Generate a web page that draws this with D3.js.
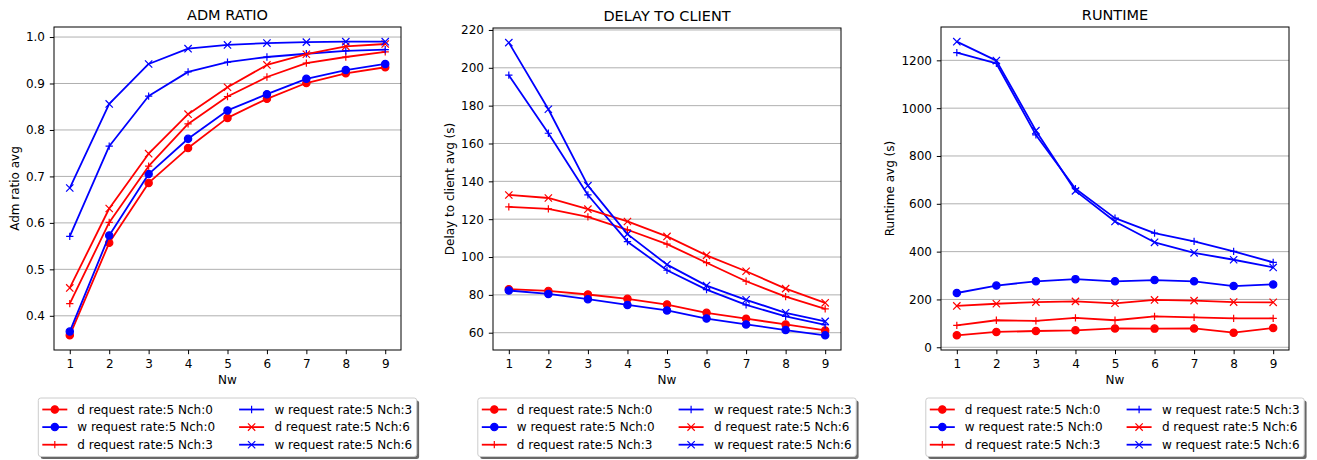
<!DOCTYPE html>
<html><head><meta charset="utf-8">
<script src="https://cdn.jsdelivr.net/npm/d3@7"></script>
<style>
body{margin:0;background:#fff}
svg{display:block;font-family:"DejaVu Sans",sans-serif}
</style>
</head><body>
<svg id="c" width="1317" height="460"></svg>
<script>
// ---------- data ----------
const nw = [1, 2, 3, 4, 5, 6, 7, 8, 9];
const seriesNames = [
  "d request rate:5 Nch:0", "w request rate:5 Nch:0",
  "d request rate:5 Nch:3", "w request rate:5 Nch:3",
  "d request rate:5 Nch:6", "w request rate:5 Nch:6"
];
const seriesColors = ["#ff0000", "#0000ff", "#ff0000", "#0000ff", "#ff0000", "#0000ff"];
const seriesMarkers = ["o", "o", "+", "+", "x", "x"];

// ADM RATIO
const admD0 = [0.358, 0.557, 0.686, 0.761, 0.826, 0.867, 0.901, 0.922, 0.935];
const admW0 = [0.366, 0.573, 0.705, 0.781, 0.842, 0.877, 0.910, 0.929, 0.942];
const admD3 = [0.426, 0.601, 0.722, 0.813, 0.872, 0.914, 0.944, 0.957, 0.968];
const admW3 = [0.571, 0.765, 0.873, 0.925, 0.946, 0.957, 0.964, 0.970, 0.973];
const admD6 = [0.460, 0.631, 0.749, 0.834, 0.892, 0.940, 0.963, 0.980, 0.985];
const admW6 = [0.675, 0.856, 0.942, 0.975, 0.983, 0.987, 0.989, 0.990, 0.990];

// DELAY TO CLIENT
const delayD0 = [83.0, 82.1, 80.2, 77.9, 74.9, 70.5, 67.4, 64.4, 61.2];
const delayW0 = [82.3, 80.5, 77.7, 74.7, 71.8, 67.5, 64.4, 61.4, 58.6];
const delayD3 = [126.5, 125.4, 121.2, 114.4, 106.8, 97.0, 87.2, 79.1, 72.6];
const delayW3 = [196.1, 165.4, 132.8, 108.1, 93.0, 82.8, 74.7, 68.6, 64.2];
const delayD6 = [132.8, 131.2, 125.3, 118.8, 110.9, 100.9, 92.5, 83.3, 75.8];
const delayW6 = [213.3, 178.1, 137.7, 112.1, 96.0, 84.9, 77.4, 70.5, 66.0];

// RUNTIME
const runD0 = [50, 64, 68, 71, 79, 78, 79, 61, 81];
const runW0 = [227, 258, 276, 285, 276, 281, 276, 256, 263];
const runD3 = [92, 113, 110, 123, 113, 129, 125, 121, 121];
const runW3 = [1232, 1187, 888, 663, 540, 477, 443, 401, 355];
const runD6 = [173, 182, 189, 192, 184, 198, 195, 189, 188];
const runW6 = [1278, 1199, 906, 654, 526, 439, 395, 366, 334];

// tick labels
const xTicks = [1, 2, 3, 4, 5, 6, 7, 8, 9];
const admTicks = [0.4, 0.5, 0.6, 0.7, 0.8, 0.9, 1.0];
const delayTicks = [60, 80, 100, 120, 140, 160, 180, 200, 220];
const runTicks = [0, 200, 400, 600, 800, 1000, 1200];

const titles = ["ADM RATIO", "DELAY TO CLIENT", "RUNTIME"];
const yLabels = ["Adm ratio avg", "Delay to client avg (s)", "Runtime avg (s)"];
const xLabel = "Nw";

// ---------- layout ----------
const panels = [
  {series: [admD0, admW0, admD3, admW3, admD6, admW6], ticks: admTicks, fmt: d3.format(".1f"),
   box: {l: 54, r: 401, t: 27, b: 350}},
  {series: [delayD0, delayW0, delayD3, delayW3, delayD6, delayW6], ticks: delayTicks, fmt: d3.format("d"),
   box: {l: 493, r: 841, t: 28, b: 350}},
  {series: [runD0, runW0, runD3, runW3, runD6, runW6], ticks: runTicks, fmt: d3.format("d"),
   box: {l: 941, r: 1289, t: 27, b: 350}}
];

const svg = d3.select("#c");
const LW = 1.8, MS = 3.65, MEW = 1.2;

function drawMarker(g, type, x, y, color) {
  if (type === "o") {
    g.append("circle").attr("cx", x).attr("cy", y).attr("r", MS)
      .attr("fill", color).attr("stroke", color).attr("stroke-width", MEW);
  } else if (type === "+") {
    g.append("path").attr("d", `M${x - MS},${y}H${x + MS}M${x},${y - MS}V${y + MS}`)
      .attr("stroke", color).attr("stroke-width", MEW).attr("fill", "none");
  } else {
    g.append("path").attr("d", `M${x - MS},${y - MS}L${x + MS},${y + MS}M${x - MS},${y + MS}L${x + MS},${y - MS}`)
      .attr("stroke", color).attr("stroke-width", MEW).attr("fill", "none");
  }
}

panels.forEach((p, pi) => {
  const {l, r, t, b} = p.box;
  const g = svg.append("g");
  const x = d3.scaleLinear().domain([0.6, 9.4]).range([l, r]);
  const all = p.series.flat();
  const mn = d3.min(all), mx = d3.max(all), m = (mx - mn) * 0.05;
  const y = d3.scaleLinear().domain([mn - m, mx + m]).range([b, t]);

  // grid
  g.append("g").selectAll("line").data(p.ticks).join("line")
    .attr("x1", l).attr("x2", r).attr("y1", d => y(d)).attr("y2", d => y(d))
    .attr("stroke", "#b0b0b0").attr("stroke-width", 1);

  // series
  const line = d3.line().x((d, i) => x(nw[i])).y(d => y(d));
  p.series.forEach((s, si) => {
    const sg = g.append("g");
    sg.append("path").datum(s).attr("d", line).attr("fill", "none")
      .attr("stroke", seriesColors[si]).attr("stroke-width", LW).attr("stroke-linejoin", "round");
    s.forEach((v, i) => drawMarker(sg, seriesMarkers[si], x(nw[i]), y(v), seriesColors[si]));
  });

  // spines
  g.append("rect").attr("x", l).attr("y", t).attr("width", r - l).attr("height", b - t)
    .attr("fill", "none").attr("stroke", "#000").attr("stroke-width", 1);

  // axes
  const xa = g.append("g").attr("transform", `translate(0,${b})`)
    .call(d3.axisBottom(x).tickValues(xTicks).tickSize(4.2).tickPadding(4).tickFormat(d3.format("d")));
  const ya = g.append("g").attr("transform", `translate(${l},0)`)
    .call(d3.axisLeft(y).tickValues(p.ticks).tickSize(4.2).tickPadding(4.8).tickFormat(p.fmt));
  [xa, ya].forEach(a => {
    a.select(".domain").remove();
    a.selectAll("text").attr("font-size", "12px").attr("font-family", "DejaVu Sans").attr("fill", "#000");
    a.selectAll("line").attr("stroke", "#000").attr("stroke-width", 1);
  });
  xa.selectAll("text").attr("dy", null).attr("y", 18.3);

  const yaW = ya.node().getBBox().width;

  // title
  g.append("text").attr("x", (l + r) / 2).attr("y", t - 7).attr("text-anchor", "middle")
    .attr("font-size", "14.5px").text(titles[pi]);
  // x label
  g.append("text").attr("x", (l + r) / 2).attr("y", 384.3).attr("text-anchor", "middle")
    .attr("font-size", "12px").text(xLabel);
  // y label
  const yx = l - yaW - 7.3;
  g.append("text").attr("transform", `translate(${yx},${(t + b) / 2}) rotate(-90)`)
    .attr("text-anchor", "middle").attr("font-size", "12px").text(yLabels[pi]);

  // legend
  const lg = g.append("g");
  const shadow = lg.append("rect"), frame = lg.append("rect");
  const rowY = [0, 1, 2].map(k => 11.5 + k * 17.6);
  const texts = [];
  seriesNames.forEach((nm, si) => {
    const tx = lg.append("text").attr("font-size", "12px").text(nm);
    texts.push(tx);
  });
  const widths = texts.map(tx => tx.node().getComputedTextLength());
  const col1W = d3.max(widths.slice(0, 3)), col2W = d3.max(widths.slice(3));
  const c1Line = 4, c1Text = 39;
  const c2Line = c1Text + col1W + 24, c2Text = c2Line + 35.3;
  const W = c2Text + col2W + 4.5, H = 58.5;
  const lx = (l + r) / 2 - W / 2, ly = 398;
  shadow.attr("x", lx + 2.4).attr("y", ly + 2.4).attr("width", W).attr("height", H)
    .attr("rx", 2.5).attr("fill", "#4d4d4d").attr("opacity", 0.85);
  frame.attr("x", lx).attr("y", ly).attr("width", W).attr("height", H)
    .attr("rx", 2.5).attr("fill", "#fff").attr("stroke", "#cccccc").attr("stroke-width", 1);
  seriesNames.forEach((nm, si) => {
    const col = si < 3 ? 0 : 1, row = si % 3;
    const ls = lx + (col ? c2Line : c1Line);
    const cy = ly + rowY[row];
    lg.append("line").attr("x1", ls).attr("x2", ls + 25).attr("y1", cy).attr("y2", cy)
      .attr("stroke", seriesColors[si]).attr("stroke-width", LW);
    drawMarker(lg, seriesMarkers[si], ls + 12.5, cy, seriesColors[si]);
    texts[si].attr("x", lx + (col ? c2Text : c1Text)).attr("y", cy + 4.3);
  });
});
</script>
</body></html>
